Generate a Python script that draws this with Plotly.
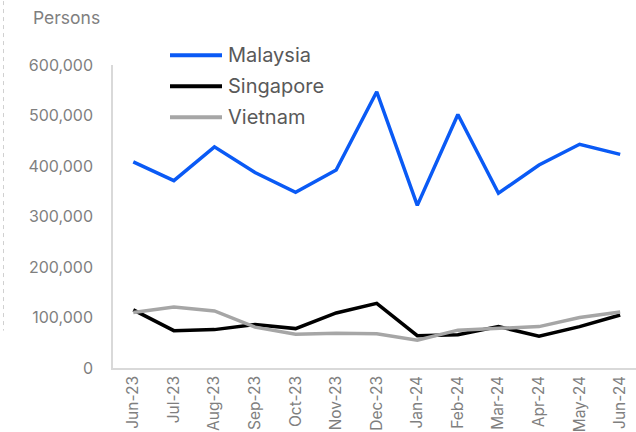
import plotly.graph_objects as go

months = ["Jun-23", "Jul-23", "Aug-23", "Sep-23", "Oct-23", "Nov-23", "Dec-23",
          "Jan-24", "Feb-24", "Mar-24", "Apr-24", "May-24", "Jun-24"]

malaysia = [408000, 371000, 438000, 387000, 348000, 392000, 547000,
            322000, 502000, 346000, 402000, 443000, 423000]
singapore = [115000, 74000, 76000, 86000, 78000, 109000, 128000,
             64000, 66000, 82000, 63000, 82000, 105000]
vietnam = [110000, 121000, 113000, 81000, 67000, 69000, 68000,
           55000, 75000, 78000, 82000, 100000, 111000]

series_names = ["Malaysia", "Singapore", "Vietnam"]
series_values = [malaysia, singapore, vietnam]
series_colors = ["#0a5af5", "#000000", "#a6a6a6"]

y_ticks = [0, 100000, 200000, 300000, 400000, 500000, 600000]

FONT = "Inter"

fig = go.Figure()
for name, vals, col in zip(series_names, series_values, series_colors):
    fig.add_trace(go.Scatter(x=months, y=vals, name=name, mode="lines",
                             line=dict(color=col, width=3.5),
                             showlegend=False))

# Legend drawn as line keys + labels above the plot area
W, H = 636, 432
L, R, T, B = 113, 0, 65, 59
pw, ph = W - L - R, H - T - B


def px_x(px):
    return (px - L) / pw


def px_y(py):
    return (H - B - py) / ph


shapes = []
annotations = []
for i, (name, col) in enumerate(zip(series_names, series_colors)):
    yy = px_y(55 + i * 31.5)
    shapes.append(dict(type="line", xref="paper", yref="paper",
                       x0=px_x(170), x1=px_x(222), y0=yy, y1=yy,
                       line=dict(color=col, width=4)))
    annotations.append(dict(text=name, xref="paper", yref="paper",
                            x=px_x(226), y=yy, xanchor="left", yanchor="middle",
                            showarrow=False,
                            font=dict(family=FONT, size=20, color="#595959")))

annotations.append(dict(text="Persons", xref="paper", yref="paper",
                        x=px_x(31), y=px_y(17), xanchor="left", yanchor="middle",
                        showarrow=False,
                        font=dict(family=FONT, size=17.5, color="#7f7f7f")))

# thin dashed divider at the far left edge
shapes.append(dict(type="line", xref="paper", yref="paper",
                   x0=px_x(3.5), x1=px_x(3.5), y0=px_y(0), y1=px_y(335),
                   line=dict(color="#d0d0d0", width=1, dash="4px,4px")))

fig.update_layout(
    width=W, height=H, autosize=False,
    margin=dict(l=L, r=R, t=T, b=B, pad=0),
    paper_bgcolor="white", plot_bgcolor="white",
    font=dict(family=FONT, color="#7f7f7f"),
    shapes=shapes, annotations=annotations,
    showlegend=False,
)
fig.update_xaxes(type="category", categoryorder="array", categoryarray=months,
                 range=[-0.5, 12.39], showgrid=False, zeroline=False,
                 showline=True, linecolor="#d9d9d9", linewidth=1.5,
                 ticks="", tickangle=-90,
                 tickfont=dict(family=FONT, size=15.5, color="#7f7f7f"))
fig.update_yaxes(range=[0, 600000], tickvals=y_ticks, tickformat=",",
                 showgrid=False, zeroline=False,
                 showline=True, linecolor="#d9d9d9", linewidth=1.5,
                 ticks="", ticklabelstandoff=15,
                 tickfont=dict(family=FONT, size=16, color="#7f7f7f"))

fig.write_html("out.html")
